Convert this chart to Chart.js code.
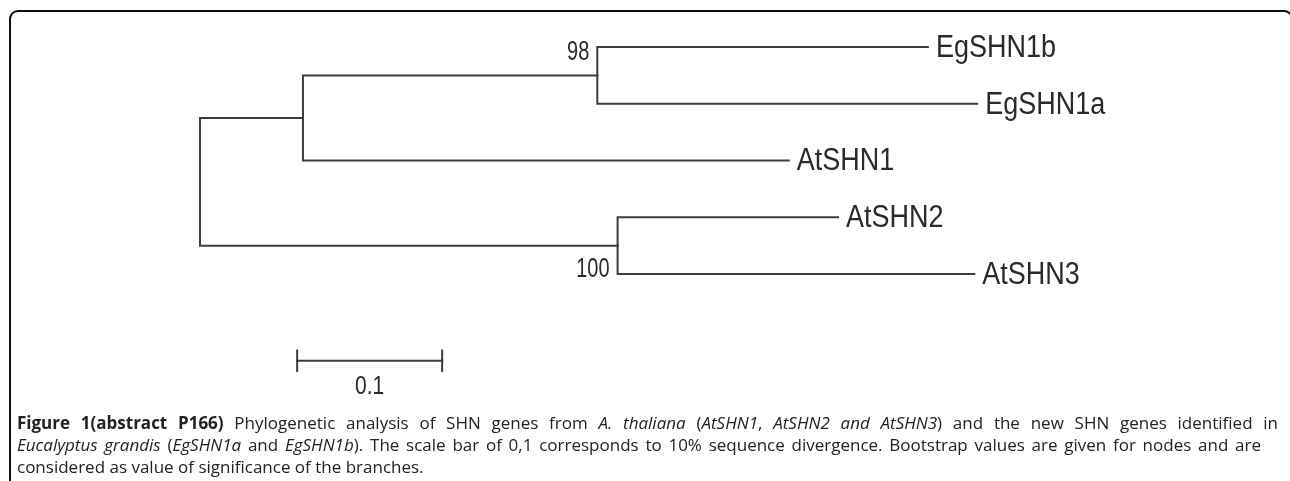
<!DOCTYPE html>
<html>
<head>
<meta charset="utf-8">
<script src="https://cdn.jsdelivr.net/npm/chart.js@4.4.1/dist/chart.umd.min.js"></script>
<style>
  html, body { margin: 0; padding: 0; background: #fff; overflow: hidden; }
  body { width: 1290px; height: 481px; position: relative; }
  #frame {
    position: absolute; left: 9px; top: 10px; width: 1284px; height: 600px;
    border: 2px solid #111; border-radius: 9px; box-sizing: border-box;
  }
  #tree { position: absolute; left: 0; top: 0; }
  .cap {
    position: absolute; left: 17px; font-family: "Open Sans", sans-serif;
    font-size: 17px; line-height: 22px; color: #222;
    text-align: justify; text-align-last: justify;
  }
  .cap.last { text-align-last: left; }
</style>
</head>
<body>
<div id="frame"></div>
<canvas id="tree" width="1290" height="481"></canvas>
<div class="cap" style="top:412px;width:1261px"><b>Figure 1(abstract P166)</b> Phylogenetic analysis of SHN genes from <i>A. thaliana</i> (<i>AtSHN1</i>, <i>AtSHN2 and AtSHN3</i>) and the new SHN genes identified in</div>
<div class="cap" style="top:434px;width:1244px"><i>Eucalyptus grandis</i> (<i>EgSHN1a</i> and <i>EgSHN1b</i>). The scale bar of 0,1 corresponds to 10% sequence divergence. Bootstrap values are given for nodes and are</div>
<div class="cap last" style="top:456px">considered as value of significance of the branches.</div>
<script>
'use strict'

// tree data (branch lengths, 0.1 = scale bar)
var nodeNames   = ['root', 'A', 'B', 'C'];
var nodeParent  = [null, 'root', 'A', 'root'];
var nodeBranch  = [0, 0.071, 0.203, 0.288];
var nodeSupport = ['', '', '98', '100'];

var tipNames   = ['EgSHN1b', 'EgSHN1a', 'AtSHN1', 'AtSHN2', 'AtSHN3'];
var tipParent  = ['B', 'B', 'A', 'C', 'C'];
var tipBranch  = [0.228, 0.262, 0.335, 0.152, 0.246];

var scaleBarLength = 0.1;
var scaleBarLabel = '0.1';

// layout
var UNIT_PX = 1450;   // px per substitution unit
var ROOT_PX = 200;
var ROW_PX = 56.75;
var FIRST_ROW_PX = 47;
var LINE_COLOR = '#3d3d3d';

window.onload = function () {
    console.log("Load OK");

    // depth / row of every node
    var depth = {}, row = {}, kids = {};
    nodeNames.forEach(function (n) { kids[n] = []; });
    function nodeDepth(name) {
        if (depth[name] !== undefined) return depth[name];
        var i = nodeNames.indexOf(name);
        var p = nodeParent[i];
        depth[name] = (p ? nodeDepth(p) : 0) + nodeBranch[i];
        return depth[name];
    }
    nodeNames.forEach(function (n, i) {
        nodeDepth(n);
        if (nodeParent[i]) kids[nodeParent[i]].push(n);
    });
    tipNames.forEach(function (t, i) {
        depth[t] = depth[tipParent[i]] + tipBranch[i];
        row[t] = i;
        kids[tipParent[i]].push(t);
    });
    function nodeRow(name) {
        if (row[name] !== undefined) return row[name];
        var ys = kids[name].map(nodeRow);
        row[name] = (Math.min.apply(null, ys) + Math.max.apply(null, ys)) / 2;
        return row[name];
    }
    nodeNames.forEach(nodeRow);

    // one elbow path per edge
    var datasets = [];
    function addEdge(child, parent) {
        datasets.push(createLine([
            { x: depth[parent], y: row[parent] },
            { x: depth[parent], y: row[child] },
            { x: depth[child], y: row[child] }
        ]));
    }
    nodeNames.forEach(function (n, i) { if (nodeParent[i]) addEdge(n, nodeParent[i]); });
    tipNames.forEach(function (t, i) { addEdge(t, tipParent[i]); });

    // scale bar
    var barX = 0.067, barY = 5.53, tick = 0.18;
    datasets.push(createLine([{ x: barX, y: barY }, { x: barX + scaleBarLength, y: barY }]));
    datasets.push(createLine([{ x: barX, y: barY - tick }, { x: barX, y: barY + tick }]));
    datasets.push(createLine([{ x: barX + scaleBarLength, y: barY - tick }, { x: barX + scaleBarLength, y: barY + tick }]));

    var labelPlugin = {
        id: 'treeLabels',
        afterDatasetsDraw: function (chart) {
            var ctx = chart.ctx, xs = chart.scales.x, ys = chart.scales.y;
            ctx.save();
            ctx.fillStyle = '#2a2a2a';
            ctx.textBaseline = 'middle';
            tipNames.forEach(function (t) {
                drawText(ctx, t, xs.getPixelForValue(depth[t]) + 8, ys.getPixelForValue(row[t]) + 1,
                    '27px "Liberation Sans", Arial, sans-serif', 1.18, 'left');
            });
            nodeNames.forEach(function (n, i) {
                if (!nodeSupport[i]) return;
                var k = kids[n].map(function (c) { return row[c]; });
                var top = Math.min.apply(null, k), bottom = Math.max.apply(null, k);
                var anchorRow = n === 'B' ? top + 0.1 : bottom - 0.07;
                drawText(ctx, nodeSupport[i], xs.getPixelForValue(depth[n]) - 8, ys.getPixelForValue(anchorRow),
                    '20px "Liberation Sans", Arial, sans-serif', 1.35, 'right');
            });
            drawText(ctx, scaleBarLabel, xs.getPixelForValue(barX + scaleBarLength / 2), ys.getPixelForValue(barY) + 26,
                '21px "Liberation Sans", Arial, sans-serif', 1.2, 'center');
            ctx.restore();
        }
    };

    new Chart(document.getElementById('tree'), {
        type: 'scatter',
        data: { datasets: datasets },
        options: {
            responsive: false,
            animation: false,
            layout: { padding: 0 },
            elements: { point: { radius: 0, hoverRadius: 0 } },
            scales: {
                x: { type: 'linear', display: false, min: -ROOT_PX / UNIT_PX, max: (1290 - ROOT_PX) / UNIT_PX },
                y: { type: 'linear', display: false, reverse: true, min: -FIRST_ROW_PX / ROW_PX, max: (481 - FIRST_ROW_PX) / ROW_PX }
            },
            plugins: { legend: { display: false }, tooltip: { enabled: false } }
        },
        plugins: [labelPlugin]
    });
};

function createLine(points) {
    return {
        data: points,
        showLine: true,
        borderColor: LINE_COLOR,
        borderWidth: 2,
        borderJoinStyle: 'miter',
        borderCapStyle: 'square',
        tension: 0,
        pointRadius: 0
    };
}

function drawText(ctx, text, x, y, font, stretch, align) {
    ctx.save();
    ctx.font = font;
    ctx.textAlign = align;
    ctx.translate(x, y);
    ctx.scale(1, stretch);
    ctx.fillText(text, 0, 0);
    ctx.restore();
}
</script>
</body>
</html>
